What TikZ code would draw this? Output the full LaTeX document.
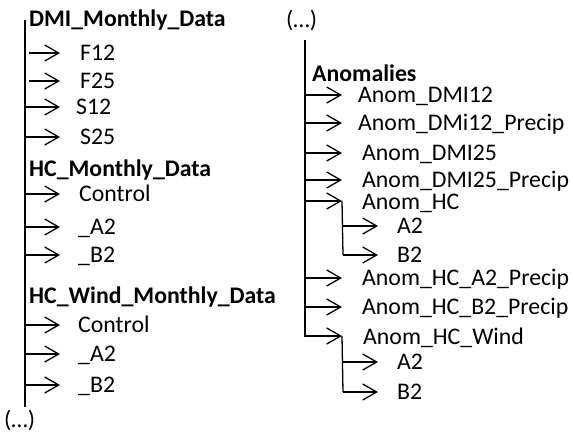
\documentclass[tikz,border=0pt]{standalone}
\usepackage{fontspec}
\setmainfont{Carlito}
\usetikzlibrary{arrows.meta}
\tikzset{
  lbl/.style={anchor=base west,inner sep=0pt,yshift=-7.5pt,font=\fontsize{23.8}{26}\selectfont},
  hdr/.style={lbl,font=\fontsize{23.8}{26}\selectfont\bfseries},
  spine/.style={line width=1.8pt},
  arr/.style={line width=1.3pt,-{Straight Barb[length=14pt,width=16pt,line width=1.3pt]}},
  sub/.style={line width=1.3pt}
}
\begin{document}
\begin{tikzpicture}[x=1pt,y=-1pt]
\useasboundingbox (0,0) rectangle (573,434);
% ---------------- left column ----------------
\coordinate (Ltop) at (25,20);
\coordinate (Lbot) at (25,407);
\draw[spine] (Ltop) -- (Lbot);
\node[hdr] (dmi) at (29,19) {DMI\_Monthly\_Data};
\node[lbl] (f12) at (80,53) {F12};
\node[lbl] (f25) at (80,81) {F25};
\node[lbl] (s12) at (76,107) {S12};
\node[lbl] (s25) at (80,137) {S25};
\node[hdr] (hc) at (29,169) {HC\_Monthly\_Data};
\node[lbl] (hcc) at (79,194) {Control};
\node[lbl] (hca) at (78,227) {\_A2};
\node[lbl] (hcb) at (78,255) {\_B2};
\node[hdr] (hw) at (29,296) {HC\_Wind\_Monthly\_Data};
\node[lbl] (hwc) at (78,325) {Control};
\node[lbl] (hwa) at (78,354) {\_A2};
\node[lbl] (hwb) at (78,385) {\_B2};
\node[lbl] (ldots) at (4,420) {(…)};
\foreach \n/\y/\x in {f12/53/29, f25/81/29, s12/107/25, s25/137/25, hcc/194/25, hca/227/25, hcb/255/25, hwc/325/25, hwa/354/25, hwb/385/25}{
  \coordinate (\n s) at (\x,\y);
  \coordinate (\n e) at (60,\y);
  \draw[arr] (\n s) -- (\n e);
}
% ---------------- right column ----------------
\node[lbl] (rdots) at (286,20) {(…)};
\coordinate (Rtop) at (305,40);
\coordinate (Rbot) at (305,337);
\draw[spine] (Rtop) -- (Rbot);
\node[hdr] (anom) at (312,74) {Anomalies};
\node[lbl] (a1) at (358,95) {Anom\_DMI12};
\node[lbl] (a2) at (358,123) {Anom\_DMi12\_Precip};
\node[lbl] (a3) at (362,153) {Anom\_DMI25};
\node[lbl] (a4) at (362,180) {Anom\_DMI25\_Precip};
\node[lbl] (a5) at (362,202) {Anom\_HC};
\node[lbl] (a5a) at (397,226) {A2};
\node[lbl] (a5b) at (397,255) {B2};
\node[lbl] (a6) at (362,278) {Anom\_HC\_A2\_Precip};
\node[lbl] (a7) at (362,307) {Anom\_HC\_B2\_Precip};
\node[lbl] (a8) at (363,337) {Anom\_HC\_Wind};
\node[lbl] (a8a) at (397,362) {A2};
\node[lbl] (a8b) at (397,392) {B2};
\foreach \n/\y in {a1/95, a2/123, a3/153, a4/180, a5/201, a6/278, a7/307, a8/336}{
  \coordinate (\n s) at (305,\y);
  \coordinate (\n e) at (342,\y);
  \draw[arr] (\n s) -- (\n e);
}
% sub branches
\draw[sub] (a5e) -- (343,255) coordinate (a5c);
\coordinate (a5as) at (343,226); \coordinate (a5ae) at (378,226);
\draw[arr] (a5as) -- (a5ae);
\coordinate (a5be) at (378,255);
\draw[arr] (a5c) -- (a5be);
\draw[sub] (a8e) -- (343,392) coordinate (a8c);
\coordinate (a8as) at (343,362); \coordinate (a8ae) at (378,362);
\draw[arr] (a8as) -- (a8ae);
\coordinate (a8be) at (378,392);
\draw[arr] (a8c) -- (a8be);
\end{tikzpicture}
\end{document}
